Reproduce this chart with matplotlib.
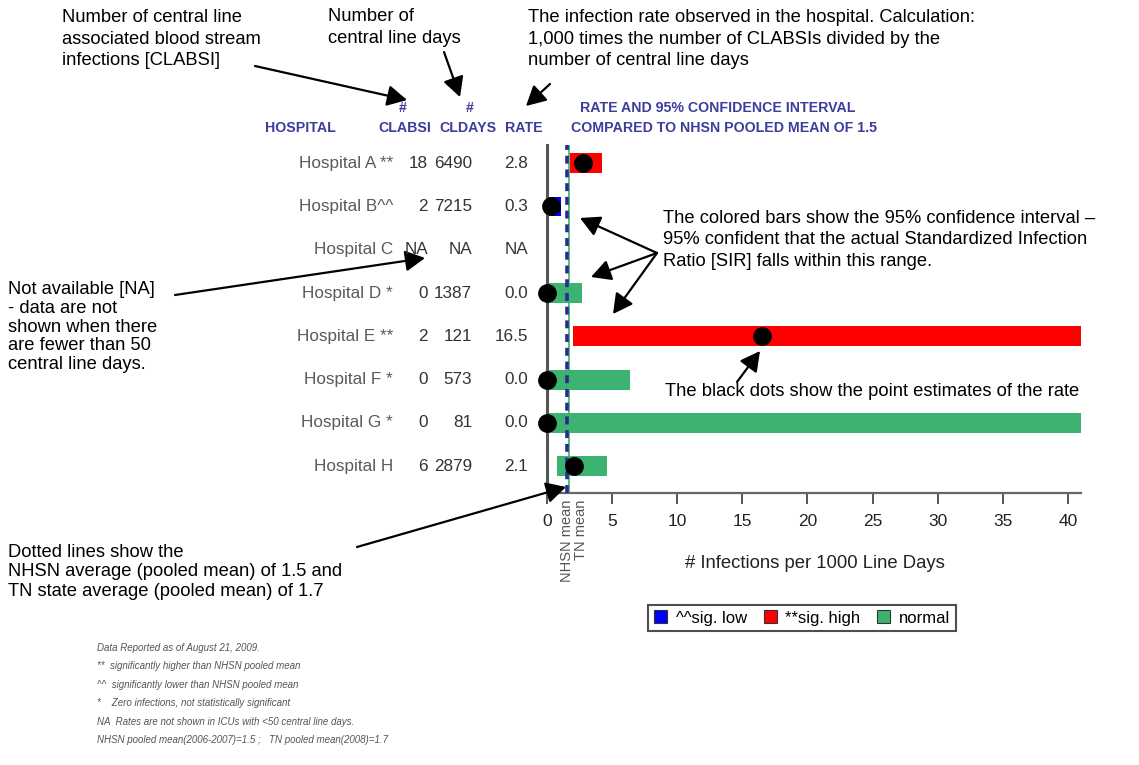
import matplotlib
matplotlib.use("Agg")
import matplotlib.pyplot as plt
import numpy as np
from matplotlib.patches import Patch, FancyArrowPatch
from matplotlib.transforms import blended_transform_factory
from matplotlib import font_manager as fm

# ---------------- data ----------------
hospitals = ["Hospital A **", "Hospital B^^", "Hospital C", "Hospital D *",
             "Hospital E **", "Hospital F *", "Hospital G *", "Hospital H"]
clabsi = ["18", "2", "NA", "0", "2", "0", "0", "6"]
cldays = ["6490", "7215", "NA", "1387", "121", "573", "81", "2879"]
rate_txt = ["2.8", "0.3", "NA", "0.0", "16.5", "0.0", "0.0", "2.1"]
rate = [2.8, 0.3, np.nan, 0.0, 16.5, 0.0, 0.0, 2.1]
ci_low = [1.75, 0.05, np.nan, 0.0, 2.0, 0.0, 0.0, 0.75]
ci_high = [4.2, 1.05, np.nan, 2.7, 45.0, 6.4, 45.0, 4.6]
status = ["high", "low", "none", "normal", "high", "normal", "normal", "normal"]
nhsn_mean = 1.5
tn_mean = 1.7
xticks = [0, 5, 10, 15, 20, 25, 30, 35, 40]
legend_labels = ["^^sig. low", "**sig. high", "normal"]

colors = {"low": "#0000ff", "high": "#ff0000", "normal": "#3cb371"}

# ---------------- fonts ----------------
def has_font(name):
    try:
        fm.findfont(fm.FontProperties(family=name), fallback_to_default=False)
        return True
    except Exception:
        return False

NARROW = has_font("Liberation Sans Narrow")
REG = "Liberation Sans"

def nf(size):
    """narrow-looking chart font sized to match the width of a regular font"""
    if NARROW:
        return dict(family="Liberation Sans Narrow", size=size / 0.86)
    return dict(family=REG, size=size)

W, H = 1139, 765
fig = plt.figure(figsize=(W / 100, H / 100), dpi=100)
fig.patch.set_facecolor("white")

def fx(x):
    return x / W

def fy(y):
    return 1 - y / H

ax = fig.add_axes([fx(547), fy(493), (1081 - 547) / W, (493 - 145) / H])
ax.set_xlim(0, 41)
n = len(hospitals)
ax.set_ylim(n - 1 + 0.62, -0.42)

ypos = np.arange(n)
for i in range(n):
    if status[i] == "none":
        continue
    ax.barh(ypos[i], ci_high[i] - ci_low[i], left=ci_low[i], height=0.46,
            color=colors[status[i]], zorder=2)

ax.axvline(tn_mean, color="#3cb371", lw=1.2, zorder=3)
ax.axvline(nhsn_mean, color="#2b2b8f", lw=2.6, ls=(0, (2.2, 1.6)), zorder=4)
ax.plot(rate, ypos, "o", color="black", ms=12.5, clip_on=False, zorder=6)

for s in ["top", "right"]:
    ax.spines[s].set_visible(False)
ax.spines["left"].set_color("#555555")
ax.spines["left"].set_linewidth(2.2)
ax.spines["bottom"].set_color("#666666")
ax.spines["bottom"].set_linewidth(1.6)
ax.set_yticks([])
ax.set_xticks(xticks)
ax.set_xticklabels([str(t) for t in xticks], **nf(12.5), color="#222222")
ax.tick_params(axis="x", direction="out", length=8, width=1.4, color="#555555", pad=7)

# rotated mean labels
tb = blended_transform_factory(ax.transData, ax.transAxes)
ax.text(nhsn_mean + 0.05, -0.02, "NHSN mean", rotation=90, ha="center", va="top",
        transform=tb, fontsize=10.5, family=REG, color="#555555")
ax.text(nhsn_mean + 1.1, -0.02, "TN mean", rotation=90, ha="center", va="top",
        transform=tb, fontsize=10.5, family=REG, color="#555555")

fig.text(fx(815), fy(563), "# Infections per 1000 Line Days", ha="center", va="center",
         **nf(13.3), color="#222222")

# table text aligned with rows
tr = blended_transform_factory(fig.transFigure, ax.transData)
for i in range(n):
    fig.text(fx(393), ypos[i], hospitals[i], ha="right", va="center", transform=tr,
             **nf(12.3), color="#5a5a5a")
    fig.text(fx(428), ypos[i], clabsi[i], ha="right", va="center", transform=tr,
             **nf(12.3), color="#333333")
    fig.text(fx(472), ypos[i], cldays[i], ha="right", va="center", transform=tr,
             **nf(12.3), color="#333333")
    fig.text(fx(528), ypos[i], rate_txt[i], ha="right", va="center", transform=tr,
             **nf(12.3), color="#333333")

# headers
hc = "#3c3c9c"
hdr = nf(10.2)
fig.text(fx(300), fy(128), "HOSPITAL", ha="center", va="center", weight="bold", color=hc, **hdr)
fig.text(fx(403), fy(108), "#", ha="center", va="center", weight="bold", color=hc, **hdr)
fig.text(fx(470), fy(108), "#", ha="center", va="center", weight="bold", color=hc, **hdr)
fig.text(fx(405), fy(128), "CLABSI", ha="center", va="center", weight="bold", color=hc, **hdr)
fig.text(fx(468), fy(128), "CLDAYS", ha="center", va="center", weight="bold", color=hc, **hdr)
fig.text(fx(524), fy(128), "RATE", ha="center", va="center", weight="bold", color=hc, **hdr)
fig.text(fx(718), fy(108), "RATE AND 95% CONFIDENCE INTERVAL", ha="center", va="center",
         weight="bold", color=hc, **hdr)
fig.text(fx(724), fy(128), "COMPARED TO NHSN POOLED MEAN OF 1.5", ha="center", va="center",
         weight="bold", color=hc, **hdr)

# legend
handles = [Patch(facecolor=colors[k], edgecolor="#333333", lw=0.8) for k in ["low", "high", "normal"]]
leg = fig.legend(handles, legend_labels, loc="center", bbox_to_anchor=(fx(802), fy(618)),
                 ncol=3, frameon=True, fancybox=False, edgecolor="#222222",
                 handlelength=0.8, handleheight=0.8, handletextpad=0.5, columnspacing=1.0,
                 borderpad=0.35, prop=dict(**nf(12)))
leg.get_frame().set_linewidth(1.5)

# footnotes
foot = ["Data Reported as of August 21, 2009.",
        "**  significantly higher than NHSN pooled mean",
        "^^  significantly lower than NHSN pooled mean",
        "*    Zero infections, not statistically significant",
        "NA  Rates are not shown in ICUs with <50 central line days.",
        "NHSN pooled mean(2006-2007)=1.5 ;   TN pooled mean(2008)=1.7"]
for k, line in enumerate(foot):
    fig.text(fx(97), fy(648 + 18.4 * k), line, ha="left", va="center", style="italic",
             color="#555555", **nf(7.0))

# annotations
af = dict(family=REG, size=13.2, color="black")
fig.text(fx(62), fy(39), "Number of central line\nassociated blood stream\ninfections [CLABSI]",
         ha="left", va="center", linespacing=1.38, **af)
fig.text(fx(328), fy(27.5), "Number of\ncentral line days", ha="left", va="center",
         linespacing=1.38, **af)
fig.text(fx(528), fy(39), "The infection rate observed in the hospital. Calculation:\n"
         "1,000 times the number of CLABSIs divided by the\nnumber of central line days",
         ha="left", va="center", linespacing=1.38, **af)
fig.text(fx(663), fy(240), "The colored bars show the 95% confidence interval \u2013\n"
         "95% confident that the actual Standardized Infection\n"
         "Ratio [SIR] falls within this range.", ha="left", va="center", linespacing=1.38, **af)
fig.text(fx(8), fy(327), "Not available [NA]\n- data are not\nshown when there\n"
         "are fewer than 50\ncentral line days.", ha="left", va="center", linespacing=1.15, **af)
fig.text(fx(665), fy(392), "The black dots show the point estimates of the rate",
         ha="left", va="center", **af)
fig.text(fx(8), fy(572), "Dotted lines show the\nNHSN average (pooled mean) of 1.5 and\n"
         "TN state average (pooled mean) of 1.7", ha="left", va="center", linespacing=1.22, **af)

def arrow(x0, y0, x1, y1):
    a = FancyArrowPatch((fx(x0), fy(y0)), (fx(x1), fy(y1)), transform=fig.transFigure,
                        arrowstyle="-|>,head_length=0.6,head_width=0.32", mutation_scale=20,
                        lw=1.6, color="black", shrinkA=0, shrinkB=0)
    fig.add_artist(a)

arrow(255, 66, 407, 100)
arrow(444, 52, 460, 97)
arrow(550, 84, 526, 106)
arrow(657, 253, 580, 218)
arrow(657, 253, 591, 277)
arrow(657, 253, 613, 314)
arrow(175, 295, 425, 258)
arrow(737, 382, 760, 351)
arrow(357, 547, 566, 487)

fig.savefig("out.png", dpi=100)
